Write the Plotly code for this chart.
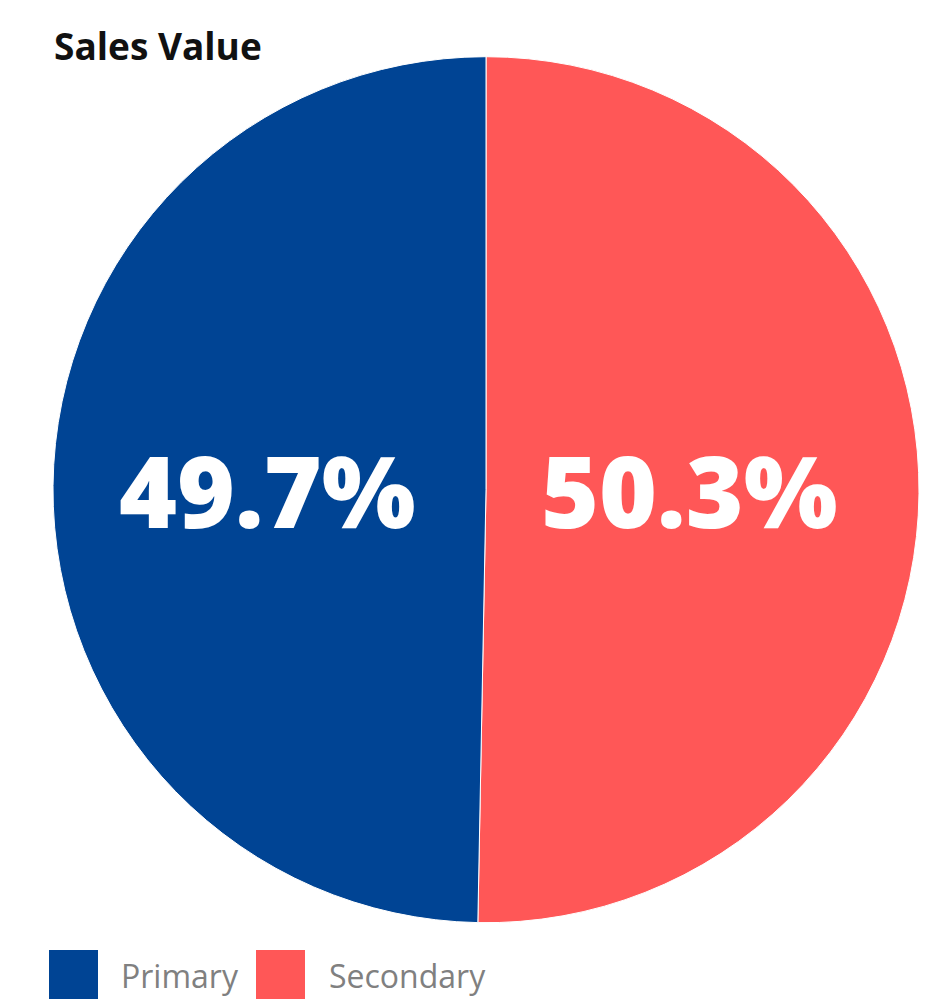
import plotly.graph_objects as go

# Sales value split by channel
labels = ["Primary", "Secondary"]
values = [49.7, 50.3]
colors = ["#004494", "#FF5757"]
title_text = "Sales Value"

W, H = 930, 999
cx, cy, r = 486, 489.7, 433  # pie centre / radius in px (from top-left)

# Secondary runs clockwise from 12 o'clock on the right, Primary fills the left
fig = go.Figure(
    go.Pie(
        labels=labels[::-1],
        values=values[::-1],
        sort=False,
        direction="clockwise",
        rotation=0,
        textinfo="none",
        hoverinfo="label+percent",
        marker=dict(colors=colors[::-1], line=dict(color="white", width=1)),
        domain=dict(
            x=[(cx - r) / W, (cx + r) / W],
            y=[(H - cy - r) / H, (H - cy + r) / H],
        ),
        showlegend=False,
    )
)

annotations = []
# percentage labels centred in each half
total = sum(values)
label_x = [cx - 0.505 * r, cx + 0.47 * r]
for v, lx in zip(values, label_x):
    annotations.append(dict(
        x=lx / W, y=(H - cy) / H, xref="paper", yref="paper",
        text=f"{v / total * 100:.1f}%", showarrow=False,
        xanchor="center", yanchor="middle",
        font=dict(family="Open Sans", size=99, color="white", weight=800),
    ))

# title
annotations.append(dict(
    x=52 / W, y=1 - 18 / H, xref="paper", yref="paper",
    text=f"<b>{title_text}</b>", showarrow=False,
    xanchor="left", yanchor="top",
    font=dict(family="Open Sans", size=37, color="#111111"),
))

# hand-built legend: swatch + label for each slice
shapes = []
sw_x = [49, 256]
txt_x = [119, 327]
for lab, col, sx, tx in zip(labels, colors, sw_x, txt_x):
    shapes.append(dict(
        type="rect", xref="paper", yref="paper",
        x0=sx / W, x1=(sx + 49) / W, y0=(H - 1005) / H, y1=(H - 950) / H,
        fillcolor=col, line=dict(width=0),
    ))
    annotations.append(dict(
        x=tx / W, y=(H - 975) / H, xref="paper", yref="paper",
        text=lab, showarrow=False, xanchor="left", yanchor="middle",
        font=dict(family="Open Sans", size=32, color="#808080"),
    ))

fig.update_layout(
    width=W, height=H,
    margin=dict(l=0, r=0, t=0, b=0),
    paper_bgcolor="white", plot_bgcolor="white",
    annotations=annotations, shapes=shapes,
)

fig.write_html("out.html")
